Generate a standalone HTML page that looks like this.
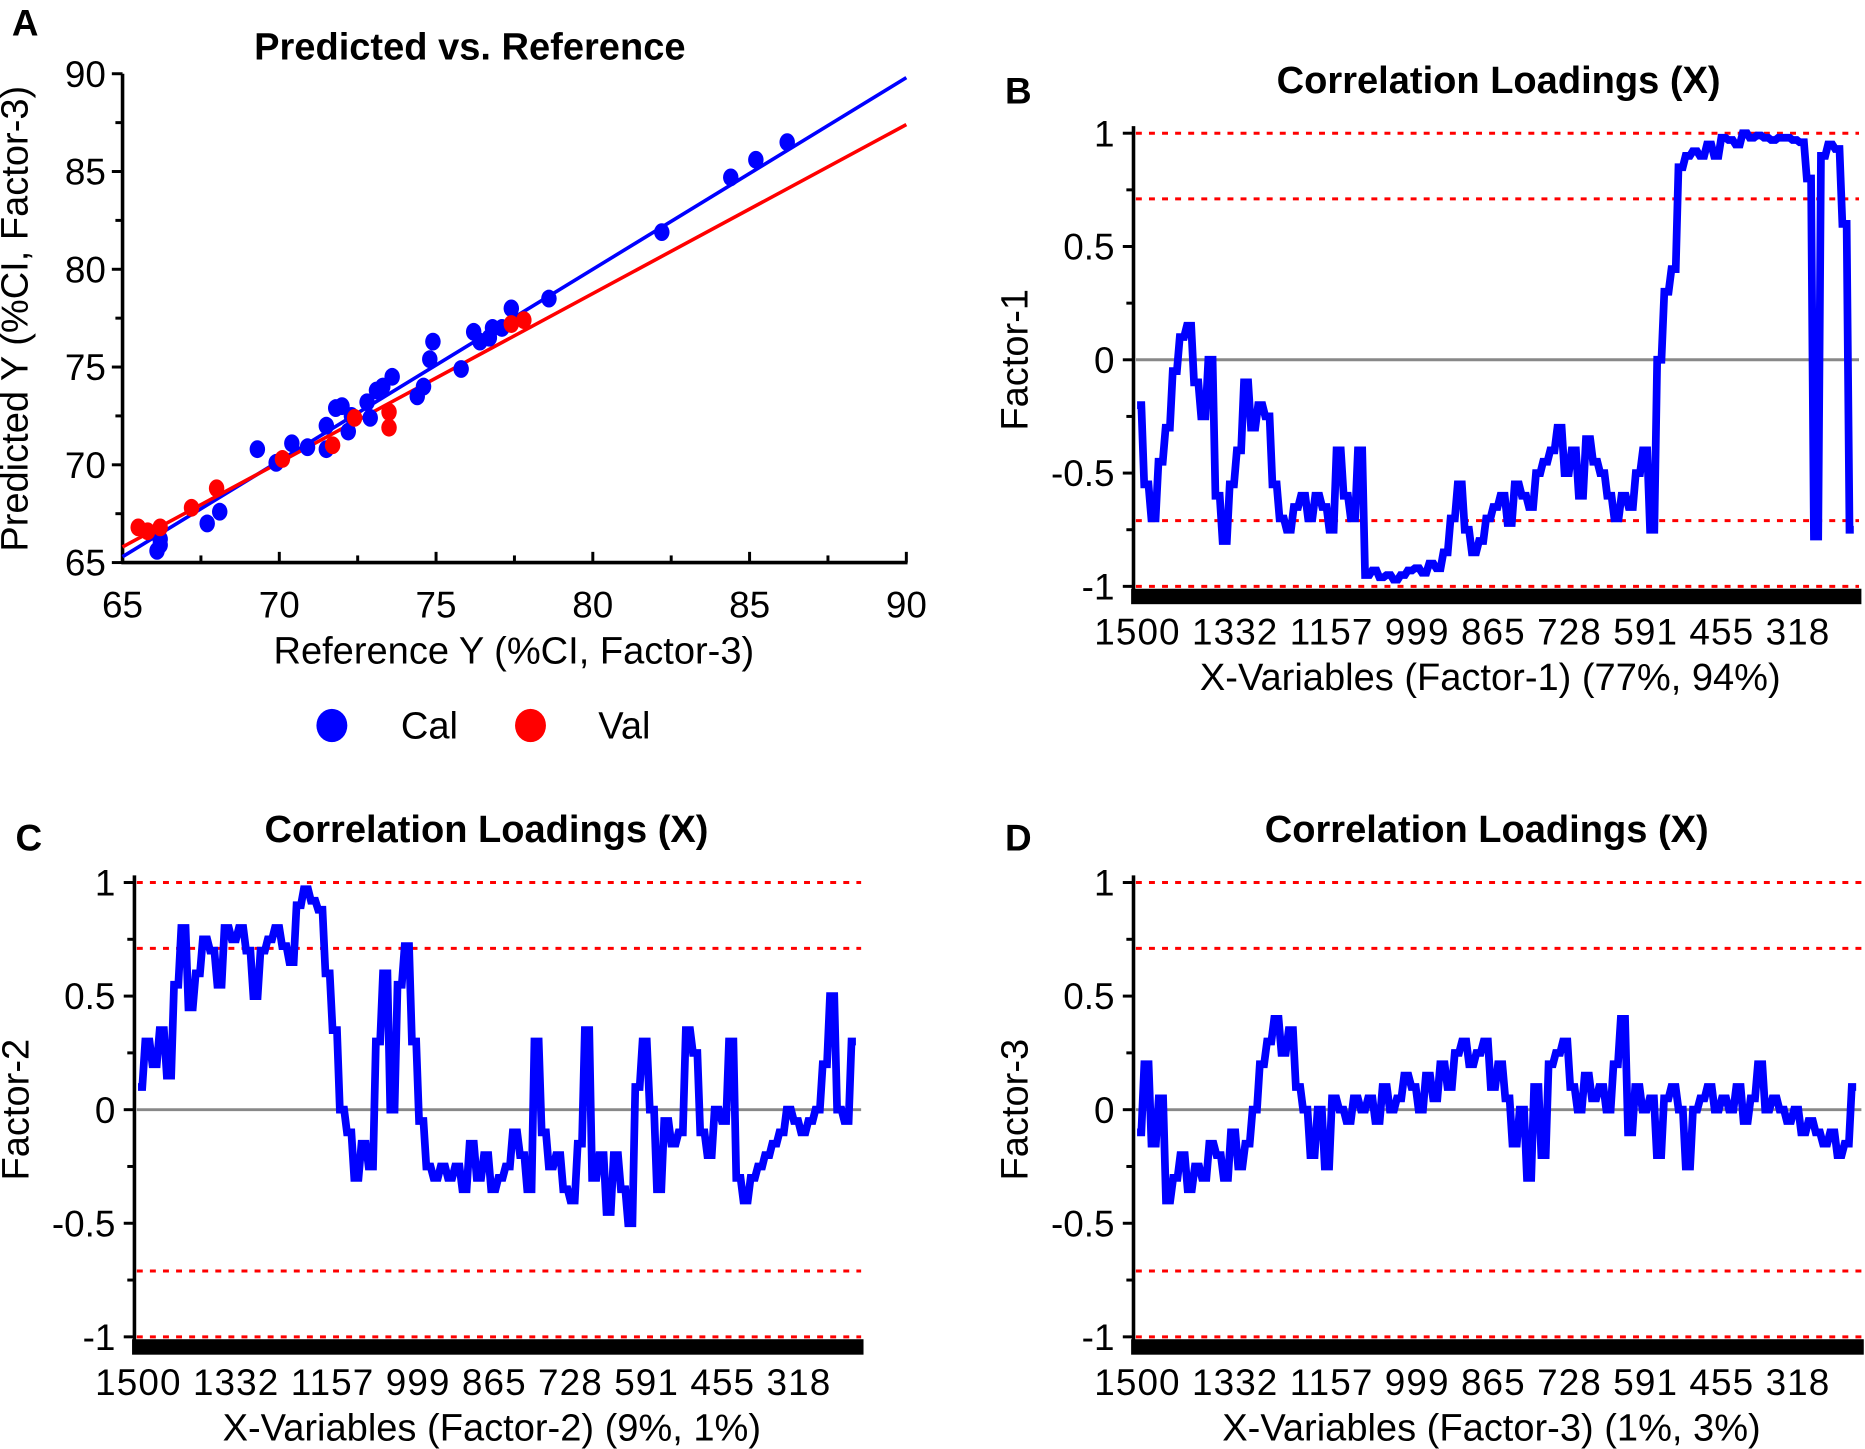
<!DOCTYPE html>
<html><head><meta charset="utf-8"><style>
html,body{margin:0;padding:0;background:#fff;}
svg{display:block;font-family:"Liberation Sans",Arial,sans-serif;}
</style></head><body>
<svg id="fig" width="1865" height="1449" viewBox="0 0 1568 1218.3"></svg>
<script>
// Panel A data
const calRef=[66.1,66.2,66.2,67.7,68.1,69.3,69.9,70.4,70.9,71.5,71.5,71.8,72.0,72.2,72.3,72.8,72.9,73.1,73.3,73.6,74.4,74.6,74.8,74.9,75.8,76.2,76.4,76.7,76.8,77.1,77.4,78.6,82.2,84.4,85.2,86.2];
const calPred=[65.6,65.9,66.2,67.0,67.6,70.8,70.1,71.1,70.9,70.8,72.0,72.9,73.0,71.7,72.5,73.2,72.4,73.8,74.0,74.5,73.5,74.0,75.4,76.3,74.9,76.8,76.3,76.5,77.0,77.0,78.0,78.5,81.9,84.7,85.6,86.5];
const valRef=[65.5,65.8,66.2,67.2,68.0,70.1,71.7,72.4,73.5,73.5,77.4,77.8];
const valPred=[66.8,66.6,66.8,67.8,68.8,70.3,71.0,72.4,72.7,71.9,77.2,77.4];
const calLine=[65.3,89.8];
const valLine=[65.8,87.4];
const scatterTicks=[65,70,75,80,85,90];
// Loadings
const factor1=[-0.2,-0.55,-0.7,-0.45,-0.3,-0.05,0.1,0.15,-0.1,-0.25,0.0,-0.6,-0.8,-0.55,-0.4,-0.1,-0.3,-0.2,-0.25,-0.55,-0.7,-0.75,-0.65,-0.6,-0.7,-0.6,-0.65,-0.75,-0.4,-0.6,-0.7,-0.4,-0.95,-0.93,-0.96,-0.95,-0.97,-0.95,-0.93,-0.92,-0.94,-0.9,-0.92,-0.85,-0.7,-0.55,-0.75,-0.85,-0.8,-0.7,-0.65,-0.6,-0.72,-0.55,-0.6,-0.65,-0.5,-0.45,-0.4,-0.3,-0.5,-0.4,-0.6,-0.35,-0.45,-0.5,-0.6,-0.7,-0.6,-0.65,-0.5,-0.4,-0.75,0.0,0.3,0.4,0.85,0.9,0.92,0.9,0.95,0.9,0.98,0.97,0.95,1.0,0.98,0.99,0.98,0.97,0.98,0.98,0.97,0.96,0.8,-0.78,0.9,0.95,0.93,0.6,-0.75];
const factor2=[0.1,0.3,0.2,0.35,0.15,0.55,0.8,0.45,0.6,0.75,0.7,0.55,0.8,0.75,0.8,0.7,0.5,0.7,0.75,0.8,0.72,0.65,0.9,0.97,0.92,0.88,0.6,0.35,0.0,-0.1,-0.3,-0.15,-0.25,0.3,0.6,0.0,0.55,0.72,0.3,-0.05,-0.25,-0.3,-0.25,-0.3,-0.25,-0.35,-0.15,-0.3,-0.2,-0.35,-0.3,-0.25,-0.1,-0.2,-0.35,0.3,-0.1,-0.25,-0.2,-0.35,-0.4,-0.15,0.35,-0.3,-0.2,-0.45,-0.2,-0.35,-0.5,0.1,0.3,0.0,-0.35,-0.05,-0.15,-0.1,0.35,0.25,-0.1,-0.2,0.0,-0.05,0.3,-0.3,-0.4,-0.3,-0.25,-0.2,-0.15,-0.1,0.0,-0.05,-0.1,-0.05,0.0,0.2,0.5,0.0,-0.05,0.3];
const factor3=[-0.1,0.2,-0.15,0.05,-0.4,-0.3,-0.2,-0.35,-0.25,-0.3,-0.15,-0.2,-0.3,-0.1,-0.25,-0.15,0.0,0.2,0.3,0.4,0.25,0.35,0.1,0.0,-0.2,0.0,-0.25,0.05,0.0,-0.05,0.05,0.0,0.05,-0.05,0.1,0.0,0.05,0.15,0.1,0.0,0.15,0.05,0.2,0.1,0.25,0.3,0.2,0.25,0.3,0.1,0.2,0.05,-0.15,0.0,-0.3,0.1,-0.2,0.2,0.25,0.3,0.1,0.0,0.15,0.05,0.1,0.0,0.2,0.4,-0.1,0.1,0.0,0.05,-0.2,0.05,0.1,0.0,-0.25,0.0,0.05,0.1,0.0,0.05,0.0,0.1,-0.05,0.05,0.2,0.0,0.05,0.0,-0.05,0.0,-0.1,-0.05,-0.1,-0.15,-0.1,-0.2,-0.15,0.1];
const xVarLabels=["1500","1332","1157","999","865","728","591","455","318"];
const loadTicks=[1,0.5,0,-0.5,-1];
const loadTickLabels=["1","0.5","0","-0.5","-1"];
const limits=[1,0.71,-0.71,-1];

const NS="http://www.w3.org/2000/svg";
const svg=document.getElementById('fig');
const FS=31;
function mk(tag,attrs,parent,text){const e=document.createElementNS(NS,tag);for(const k in attrs)e.setAttribute(k,attrs[k]);if(text!==undefined)e.textContent=text;(parent||svg).appendChild(e);return e;}

// ---- Panel A ----
const gA=mk('g',{});


const ax0=103,ax1=762,ay0=473,ay1=62;
const sx=v=>ax0+(v-65)/25*(ax1-ax0);
const sy=v=>ay0-(v-65)/25*(ay0-ay1);
let t=mk('text',{x:10,y:30,'font-size':FS,'font-weight':'bold'},gA,'A');

t=mk('text',{x:395,y:50,'font-size':FS+1,'font-weight':'bold','text-anchor':'middle'},gA,'Predicted vs. Reference');

mk('line',{x1:ax0,y1:ay1,x2:ax0,y2:ay0+1,stroke:'#000','stroke-width':3},gA);
mk('line',{x1:ax0-1,y1:ay0,x2:ax1+1,y2:ay0,stroke:'#000','stroke-width':3},gA);
for(let v=65;v<=90;v+=2.5){
  const major=(v%5===0);
  mk('line',{x1:ax0-(major?9:6),y1:sy(v),x2:ax0,y2:sy(v),stroke:'#000','stroke-width':2.5},gA);
  mk('line',{x1:sx(v),y1:ay0,x2:sx(v),y2:ay0-(major?9:6),stroke:'#000','stroke-width':2.5},gA);
}
scatterTicks.forEach(v=>{
  let a=mk('text',{x:ax0-14,y:sy(v)+11,'font-size':FS,'text-anchor':'end'},gA,String(v));
  
  let b=mk('text',{x:sx(v),y:519,'font-size':FS,'text-anchor':'middle'},gA,String(v));
  
});
t=mk('text',{x:432,y:558,'font-size':FS+1,'text-anchor':'middle'},gA,'Reference Y (%CI, Factor-3)');

t=mk('text',{x:0,y:0,'font-size':FS+1,'text-anchor':'middle',transform:'translate(23,268) rotate(-90)'},gA,'Predicted Y (%CI, Factor-3)');

let ln=mk('line',{x1:sx(65),y1:sy(calLine[0]),x2:sx(90),y2:sy(calLine[1]),stroke:'#0000ff','stroke-width':3},gA);

ln=mk('line',{x1:sx(65),y1:sy(valLine[0]),x2:sx(90),y2:sy(valLine[1]),stroke:'#ff0000','stroke-width':3},gA);

calRef.forEach((r,i)=>{
  const c=mk('ellipse',{cx:sx(r),cy:sy(calPred[i]),rx:6.5,ry:7.5,fill:'#0000ff'},gA);
  
  
});
valRef.forEach((r,i)=>{
  const c=mk('ellipse',{cx:sx(r),cy:sy(valPred[i]),rx:6.5,ry:7.5,fill:'#ff0000'},gA);
  
  
});
const lg=mk('g',{},gA);

let le=mk('ellipse',{cx:279,cy:610,rx:13,ry:14,fill:'#0000ff'},lg);

le=mk('text',{x:337,y:621,'font-size':FS+1},lg,'Cal');

le=mk('ellipse',{cx:446,cy:610,rx:13,ry:14,fill:'#ff0000'},lg);

le=mk('text',{x:503,y:621,'font-size':FS+1},lg,'Val');


// ---- Loadings panels ----
function loadPanel(o){
  const g=mk('g',{});
  
  
  const x0=o.x0,x1=o.x1,yTop=o.yTop,yBot=o.yBot;
  const py=v=>yBot-(v+1)/2*(yBot-yTop);
  const n=o.data.length;
  const px=i=>x0+3+i/(n)*(x1-x0-5);
  let e=mk('text',{x:o.lx,y:o.ly,'font-size':FS,'font-weight':'bold'},g,o.letter);
  
  e=mk('text',{x:o.tx,y:o.ty,'font-size':FS+1,'font-weight':'bold','text-anchor':'middle'},g,'Correlation Loadings (X)');
  
  e=mk('rect',{x:x0-2,y:yBot+2,width:x1-x0+4,height:13,fill:'#000'},g);
  
  mk('line',{x1:x0,y1:yTop-6,x2:x0,y2:yBot+4,stroke:'#000','stroke-width':3},g);
  for(let v=-1;v<=1.001;v+=0.25){
    const major=Math.abs(v*2-Math.round(v*2))<1e-6;
    mk('line',{x1:x0-(major?9:6),y1:py(v),x2:x0,y2:py(v),stroke:'#000','stroke-width':2.5},g);
  }
  loadTicks.forEach((v,i)=>{
    const a=mk('text',{x:x0-16,y:py(v)+11,'font-size':FS,'text-anchor':'end'},g,loadTickLabels[i]);
    
  });
  limits.forEach(v=>{
    const l=mk('line',{x1:x0+2,y1:py(v),x2:x1,y2:py(v),stroke:'#ff0000','stroke-width':2.5,'stroke-dasharray':'5 6'},g);
    
  });
  e=mk('line',{x1:x0+2,y1:py(0),x2:x1,y2:py(0),stroke:'#888','stroke-width':2.5},g);
  
  let d='M'+px(0).toFixed(1)+','+py(o.data[0]).toFixed(1);
  o.data.forEach((v,i)=>{
    d+=' L'+px(i).toFixed(1)+','+py(v).toFixed(1)+' L'+px(i+0.6).toFixed(1)+','+py(v).toFixed(1);
  });
  e=mk('path',{d:d,fill:'none',stroke:'#0000ff','stroke-width':6.5,'stroke-linejoin':'miter','stroke-miterlimit':2},g);
  
  e=mk('text',{x:x0-33,y:yBot+49,'font-size':FS,textLength:618,lengthAdjust:'spacing'},g,xVarLabels.join(' '));
  
  e=mk('text',{x:(x0+x1)/2-5,y:yBot+87,'font-size':FS+1,'text-anchor':'middle'},g,o.xlabel);
  
  e=mk('text',{x:0,y:0,'font-size':FS+1,'text-anchor':'middle',transform:'translate('+(o.ylx)+','+py(0)+') rotate(-90)'},g,o.ylabel);
  
}
loadPanel({name:'panel-b-loadings',data:factor1,x0:953,x1:1563,yTop:112,yBot:493,letter:'B',lx:845,ly:87,tx:1260,ty:78,xlabel:'X-Variables (Factor-1) (77%, 94%)',ylabel:'Factor-1',ylx:864});
loadPanel({name:'panel-c-loadings',data:factor2,x0:113,x1:724,yTop:742,yBot:1124,letter:'C',lx:13,ly:715,tx:409,ty:708,xlabel:'X-Variables (Factor-2) (9%, 1%)',ylabel:'Factor-2',ylx:24});
loadPanel({name:'panel-d-loadings',data:factor3,x0:953,x1:1565,yTop:742,yBot:1124,letter:'D',lx:845,ly:715,tx:1250,ty:708,xlabel:'X-Variables (Factor-3) (1%, 3%)',ylabel:'Factor-3',ylx:864});
</script>
</body></html>
